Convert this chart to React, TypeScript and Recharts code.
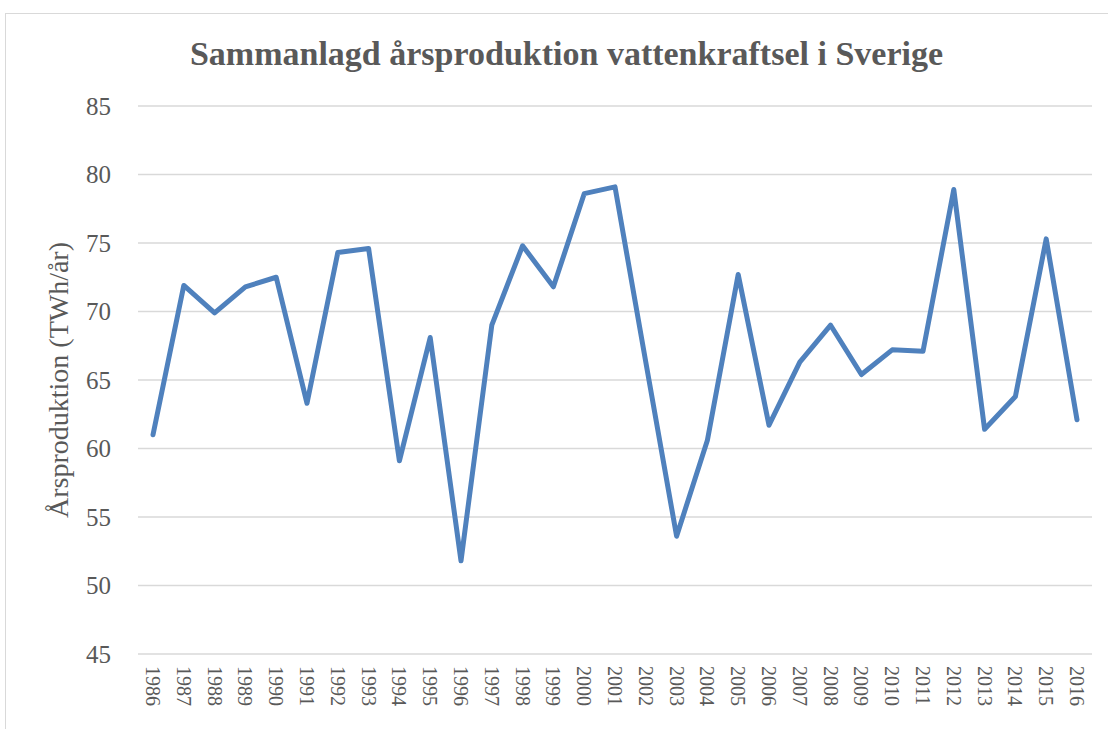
import { CartesianGrid, Line, LineChart, XAxis, YAxis } from "recharts";

const years = [
  "1986", "1987", "1988", "1989", "1990", "1991", "1992", "1993", "1994", "1995",
  "1996", "1997", "1998", "1999", "2000", "2001", "2002", "2003", "2004", "2005",
  "2006", "2007", "2008", "2009", "2010", "2011", "2012", "2013", "2014", "2015", "2016",
];

const production = [
  61.0, 71.9, 69.9, 71.8, 72.5, 63.3, 74.3, 74.6, 59.1, 68.1,
  51.8, 69.0, 74.8, 71.8, 78.6, 79.1, 66.3, 53.6, 60.6, 72.7,
  61.7, 66.3, 69.0, 65.4, 67.2, 67.1, 78.9, 61.4, 63.8, 75.3, 62.1,
];

const yTicks = [45, 50, 55, 60, 65, 70, 75, 80, 85];

const data = years.map((year, i) => ({ year, value: production[i] }));

const font = '"Liberation Serif", "DejaVu Serif", serif';
const textColor = "#595959";

function YearTick({ x, y, payload }: any) {
  return (
    <text
      transform={`translate(${x - 7}, ${y + 4}) rotate(90)`}
      textAnchor="start"
      fontFamily={font}
      fontSize={20}
      fill={textColor}
    >
      {payload.value}
    </text>
  );
}

export default function App() {
  return (
    <div style={{ position: "absolute", left: 0, top: 0, width: 1108, height: 729, background: "#fff", overflow: "hidden" }}>
      <div
        style={{
          position: "absolute",
          left: 5,
          top: 13,
          width: 1200,
          height: 800,
          border: "1.5px solid #d9d9d9",
        }}
      />
      <div
        style={{
          position: "absolute",
          left: 0,
          top: 34,
          width: 1133,
          textAlign: "center",
          fontFamily: font,
          fontWeight: "bold",
          fontSize: 34,
          lineHeight: "40px",
          color: textColor,
        }}
      >
        Sammanlagd årsproduktion vattenkraftsel i Sverige
      </div>
      <div style={{ position: "absolute", left: 0, top: 0 }}>
        <LineChart width={1108} height={729} data={data} margin={{ top: 106, right: 16, bottom: 0, left: 38 }}>
          <CartesianGrid stroke="#d9d9d9" strokeWidth={1.5} vertical={false} />
          <XAxis
            dataKey="year"
            axisLine={false}
            tickLine={false}
            interval={0}
            height={75}
            padding={{ left: 15, right: 15 }}
            tick={YearTick}
          />
          <YAxis
            domain={[45, 85]}
            ticks={yTicks}
            axisLine={false}
            tickLine={false}
            width={100}
            tickMargin={21}
            tick={{ fontFamily: font, fontSize: 25, fill: textColor }}
            label={{
              value: "Årsproduktion (TWh/år)",
              angle: -90,
              position: "insideLeft",
              offset: 20,
              style: { fontFamily: font, fontSize: 28, fill: textColor, textAnchor: "middle" },
            }}
          />
          <Line
            type="linear"
            dataKey="value"
            stroke="#4f81bd"
            strokeWidth={5}
            dot={false}
            activeDot={false}
            strokeLinejoin="round"
            strokeLinecap="round"
            isAnimationActive={false}
          />
        </LineChart>
      </div>
    </div>
  );
}
